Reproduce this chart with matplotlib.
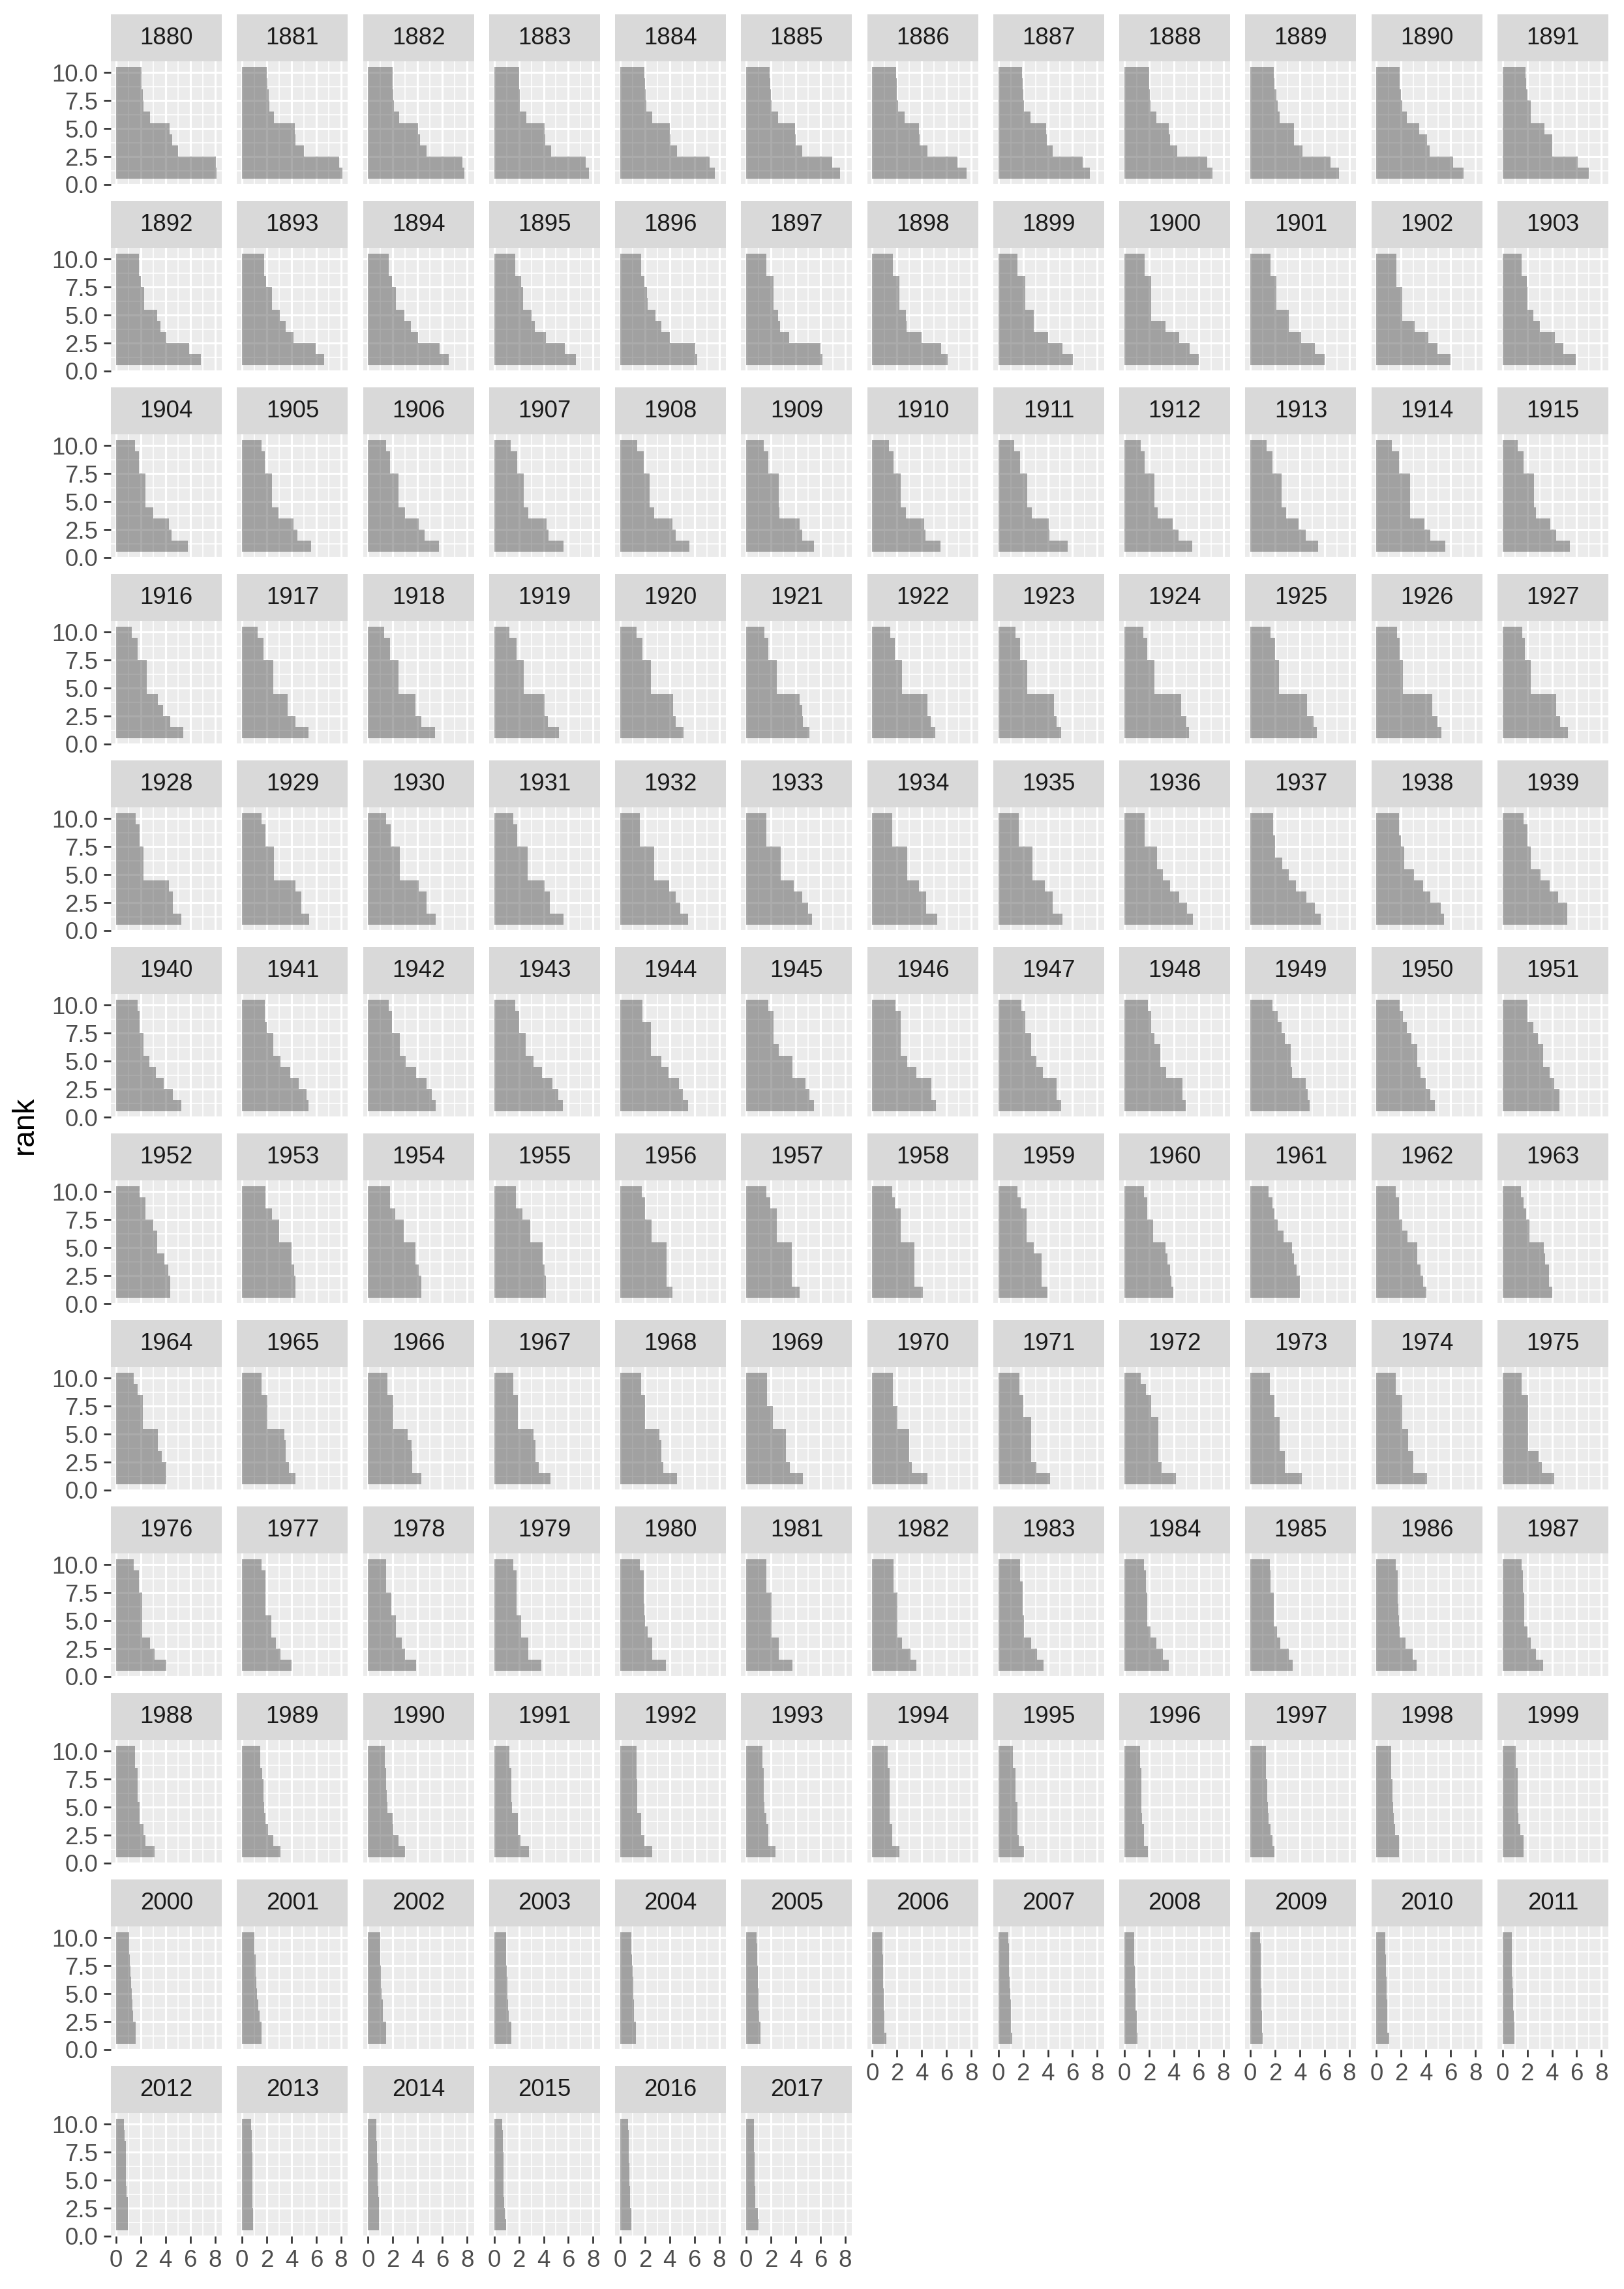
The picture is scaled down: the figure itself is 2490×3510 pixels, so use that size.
import matplotlib
matplotlib.use("Agg")
import matplotlib.pyplot as plt
import numpy as np

# share (%) of the ten most common names per year, one list per rank
years = list(range(1880, 2018))
ranks = [1, 2, 3, 4, 5, 6, 7, 8, 9, 10]

rank1 = [8.15, 8.10, 7.80, 7.65, 7.65, 7.60, 7.60, 7.40, 7.10, 7.15, 7.05, 7.00,
         6.87, 6.66, 6.54, 6.60, 6.25, 6.15, 6.10, 6.05, 6.00, 6.00, 5.97, 5.90,
         5.80, 5.60, 5.75, 5.60, 5.60, 5.47, 5.50, 5.60, 5.47, 5.47, 5.55, 5.43,
         5.43, 5.35, 5.40, 5.23, 5.10, 5.08, 5.08, 5.08, 5.20, 5.35, 5.27, 5.27,
         5.27, 5.40, 5.47, 5.60, 5.50, 5.30, 5.23, 5.20, 5.55, 5.70, 5.47, 5.23,
         5.27, 5.35, 5.47, 5.55, 5.50, 5.47, 5.16, 5.08, 4.96, 4.80, 4.70, 4.58,
         4.37, 4.30, 4.30, 4.20, 4.20, 4.30, 4.10, 3.95, 3.98, 4.00, 4.05, 4.05,
         4.06, 4.30, 4.30, 4.57, 4.60, 4.60, 4.45, 4.20, 4.18, 4.18, 4.10, 4.18,
         4.06, 3.98, 3.90, 3.80, 3.70, 3.75, 3.55, 3.63, 3.60, 3.40, 3.25, 3.28,
         3.10, 3.10, 3.00, 2.80, 2.58, 2.38, 2.20, 2.07, 1.92, 1.92, 1.80, 1.72,
         1.56, 1.56, 1.45, 1.37, 1.25, 1.17, 1.13, 1.10, 1.05, 0.98, 1.05, 0.98,
         0.94, 0.90, 0.90, 0.94, 0.90, 0.98]
rank2 = [8.05, 7.85, 7.60, 7.40, 7.25, 6.95, 6.90, 6.80, 6.70, 6.50, 6.20, 6.10,
         5.93, 5.95, 5.76, 5.70, 6.05, 6.00, 5.55, 5.20, 5.27, 5.20, 4.95, 4.90,
         4.50, 4.45, 4.55, 4.40, 4.50, 4.50, 4.30, 4.15, 4.37, 4.45, 4.37, 4.33,
         4.37, 4.30, 4.30, 4.33, 4.50, 4.60, 4.70, 4.70, 5.04, 5.08, 4.95, 4.65,
         4.60, 4.77, 4.70, 4.50, 4.88, 5.00, 4.37, 4.40, 5.08, 5.20, 5.20, 5.23,
         4.57, 5.23, 5.16, 5.16, 5.08, 5.08, 4.77, 4.70, 4.70, 4.62, 4.35, 4.58,
         4.37, 4.30, 4.30, 4.20, 3.75, 3.70, 3.40, 3.50, 3.80, 4.00, 3.77, 3.77,
         4.06, 3.80, 3.55, 3.60, 3.50, 3.50, 3.20, 3.10, 3.00, 2.80, 3.00, 3.16,
         3.10, 3.10, 3.00, 2.77, 2.58, 2.65, 3.08, 3.12, 3.10, 3.08, 2.93, 2.70,
         2.40, 2.54, 2.46, 2.15, 1.95, 1.80, 1.60, 1.64, 1.56, 1.76, 1.80, 1.72,
         1.56, 1.56, 1.45, 1.37, 1.25, 1.17, 1.00, 1.02, 0.98, 0.95, 0.88, 0.98,
         0.94, 0.88, 0.90, 0.85, 0.90, 0.95]
rank3 = [5.01, 5.00, 4.75, 4.60, 4.60, 4.50, 4.45, 4.40, 4.25, 4.20, 4.30, 4.00,
         4.07, 4.14, 4.02, 4.20, 4.00, 3.45, 4.00, 4.00, 4.45, 4.10, 4.20, 4.25,
         4.25, 4.15, 4.10, 4.25, 4.20, 4.30, 4.20, 4.10, 3.90, 3.90, 3.90, 3.87,
         3.80, 3.70, 3.83, 4.06, 4.30, 4.50, 4.45, 4.50, 4.57, 4.60, 4.50, 4.33,
         4.60, 4.77, 4.70, 4.50, 4.50, 4.50, 4.37, 4.40, 4.45, 4.50, 4.37, 4.50,
         3.87, 4.57, 4.70, 4.73, 4.73, 4.80, 4.77, 4.70, 4.70, 4.47, 4.00, 4.20,
         4.20, 4.20, 4.10, 4.10, 3.75, 3.70, 3.40, 3.50, 3.67, 3.73, 3.55, 3.77,
         3.67, 3.50, 3.55, 3.36, 3.30, 3.20, 3.00, 2.65, 2.73, 2.80, 3.00, 2.90,
         2.73, 2.73, 2.73, 2.77, 2.58, 2.65, 2.38, 2.65, 2.60, 2.42, 2.34, 2.30,
         2.20, 2.10, 2.03, 1.90, 1.68, 1.80, 1.60, 1.52, 1.56, 1.64, 1.50, 1.45,
         1.40, 1.40, 1.20, 1.20, 1.12, 1.05, 1.00, 1.02, 0.98, 0.92, 0.86, 0.90,
         0.94, 0.86, 0.90, 0.80, 0.82, 0.75]
rank4 = [4.52, 4.30, 4.20, 4.15, 4.05, 4.00, 3.85, 3.90, 3.70, 3.55, 4.10, 4.00,
         3.60, 3.55, 3.44, 3.30, 3.35, 2.75, 2.75, 2.85, 3.30, 3.10, 3.10, 3.00,
         3.00, 2.97, 3.00, 2.77, 2.77, 2.70, 2.70, 2.70, 2.70, 2.90, 2.73, 2.70,
         3.40, 3.70, 3.83, 4.06, 4.30, 4.30, 4.45, 4.50, 4.57, 4.60, 4.50, 4.33,
         4.25, 4.30, 4.10, 4.06, 3.95, 3.83, 3.80, 3.75, 3.70, 3.70, 3.80, 3.80,
         3.20, 3.90, 3.90, 3.87, 3.90, 3.75, 3.55, 3.60, 3.40, 3.38, 3.55, 3.80,
         3.90, 4.00, 3.83, 3.90, 3.75, 3.70, 3.40, 3.50, 3.50, 3.50, 3.30, 3.47,
         3.40, 3.50, 3.50, 3.36, 3.30, 3.20, 3.00, 2.65, 2.73, 2.34, 2.54, 2.10,
         2.10, 2.34, 2.27, 2.20, 2.20, 2.07, 2.03, 2.07, 2.10, 2.15, 1.90, 2.00,
         1.90, 1.90, 2.00, 1.90, 1.68, 1.60, 1.40, 1.52, 1.45, 1.45, 1.40, 1.30,
         1.33, 1.33, 1.17, 1.10, 1.10, 1.00, 0.95, 1.00, 0.92, 0.90, 0.86, 0.86,
         0.85, 0.86, 0.80, 0.78, 0.78, 0.72]
rank5 = [4.33, 4.28, 4.05, 4.10, 4.00, 3.95, 3.80, 3.85, 3.60, 3.50, 3.45, 3.40,
         3.30, 3.06, 2.94, 3.00, 2.85, 2.60, 2.70, 2.85, 2.15, 3.10, 2.07, 2.50,
         2.40, 2.40, 2.46, 2.40, 2.40, 2.65, 2.30, 2.34, 2.42, 2.50, 2.73, 2.54,
         2.50, 2.54, 2.46, 2.40, 2.46, 2.46, 2.38, 2.34, 2.42, 2.30, 2.15, 2.30,
         2.20, 2.60, 2.54, 2.70, 2.77, 2.77, 2.80, 2.77, 3.10, 3.10, 3.05, 3.10,
         2.70, 3.10, 3.05, 3.16, 3.30, 3.75, 2.80, 3.05, 2.90, 3.26, 3.30, 3.30,
         3.30, 4.00, 3.83, 3.90, 3.75, 3.70, 3.40, 2.85, 3.30, 3.38, 3.30, 3.36,
         3.40, 3.40, 3.20, 3.16, 3.16, 3.20, 3.00, 2.65, 2.73, 2.34, 2.54, 2.10,
         2.10, 2.34, 2.27, 2.20, 2.00, 2.07, 2.03, 2.07, 1.84, 1.90, 1.80, 1.76,
         1.90, 1.80, 1.55, 1.45, 1.40, 1.45, 1.40, 1.52, 1.40, 1.40, 1.35, 1.25,
         1.25, 1.20, 1.10, 1.07, 1.08, 0.98, 0.92, 0.95, 0.90, 0.88, 0.84, 0.84,
         0.80, 0.86, 0.78, 0.76, 0.75, 0.70]
rank6 = [2.74, 2.60, 2.50, 2.60, 2.60, 2.60, 2.60, 2.60, 2.60, 2.35, 2.45, 2.30,
         2.28, 2.42, 2.24, 2.35, 2.20, 2.20, 2.20, 2.20, 2.15, 2.10, 2.07, 2.00,
         2.40, 2.40, 2.46, 2.40, 2.40, 2.65, 2.30, 2.34, 2.42, 2.50, 2.73, 2.54,
         2.50, 2.54, 2.46, 2.40, 2.46, 2.46, 2.38, 2.34, 2.42, 2.30, 2.15, 2.30,
         2.20, 2.60, 2.54, 2.70, 2.77, 2.77, 2.80, 2.77, 2.65, 2.60, 2.23, 2.30,
         2.20, 2.54, 2.54, 2.54, 2.46, 2.65, 2.30, 2.65, 2.90, 3.26, 3.30, 3.30,
         3.30, 3.00, 2.90, 2.90, 2.54, 2.46, 2.30, 2.27, 2.30, 2.70, 2.50, 2.20,
         2.15, 2.03, 2.03, 1.90, 2.00, 2.15, 2.03, 2.65, 2.73, 2.34, 2.07, 2.10,
         2.10, 1.88, 1.88, 1.80, 1.95, 2.07, 2.03, 1.95, 1.84, 1.90, 1.75, 1.76,
         1.72, 1.72, 1.50, 1.40, 1.37, 1.42, 1.40, 1.37, 1.37, 1.37, 1.29, 1.21,
         1.20, 1.15, 1.05, 1.05, 1.05, 0.95, 0.90, 0.90, 0.87, 0.86, 0.80, 0.80,
         0.78, 0.86, 0.75, 0.75, 0.72, 0.68]
rank7 = [2.22, 2.20, 2.07, 2.10, 2.10, 2.05, 2.10, 2.05, 2.10, 2.20, 2.10, 2.30,
         2.28, 2.42, 2.24, 2.35, 2.15, 2.20, 2.20, 2.20, 2.15, 2.10, 2.07, 2.00,
         2.40, 2.40, 2.46, 2.40, 2.40, 2.65, 2.30, 2.34, 2.42, 2.50, 2.73, 2.54,
         2.50, 2.54, 2.46, 2.40, 2.46, 2.46, 2.38, 2.34, 2.42, 2.30, 2.15, 2.30,
         2.20, 2.60, 2.54, 2.70, 2.77, 2.77, 2.80, 2.77, 2.65, 2.00, 2.23, 2.30,
         2.20, 2.54, 2.54, 2.54, 2.46, 2.20, 2.30, 2.65, 2.42, 2.78, 2.80, 2.85,
         3.00, 3.00, 2.90, 2.90, 2.54, 2.46, 2.30, 2.27, 2.30, 2.20, 2.08, 2.20,
         2.15, 2.03, 2.03, 1.90, 2.00, 2.15, 2.03, 2.00, 2.15, 1.95, 2.07, 2.10,
         2.10, 1.88, 1.88, 1.80, 1.90, 2.07, 2.03, 1.95, 1.84, 1.90, 1.72, 1.76,
         1.72, 1.72, 1.48, 1.40, 1.35, 1.40, 1.40, 1.37, 1.37, 1.37, 1.29, 1.21,
         1.17, 1.10, 1.02, 1.03, 1.00, 0.92, 0.88, 0.88, 0.85, 0.86, 0.78, 0.78,
         0.78, 0.86, 0.73, 0.74, 0.71, 0.66]
rank8 = [2.14, 2.15, 2.05, 2.05, 2.05, 2.00, 2.00, 2.00, 2.05, 2.10, 2.00, 2.00,
         2.00, 1.95, 1.95, 2.20, 1.95, 2.20, 2.20, 2.20, 2.15, 2.10, 1.60, 1.99,
         1.84, 1.83, 1.76, 1.84, 1.88, 1.80, 1.72, 1.76, 1.64, 1.76, 1.80, 1.68,
         1.72, 1.72, 1.76, 1.80, 1.80, 1.76, 1.84, 1.76, 1.84, 2.00, 1.85, 1.83,
         1.90, 1.90, 1.84, 1.84, 1.56, 1.60, 1.60, 1.64, 1.64, 2.00, 2.00, 2.00,
         1.90, 2.00, 1.95, 2.00, 2.46, 2.20, 2.30, 2.20, 2.15, 2.50, 2.45, 2.50,
         2.40, 2.42, 2.20, 2.30, 2.00, 2.46, 2.30, 2.27, 1.84, 1.92, 1.80, 1.92,
         2.15, 2.03, 2.03, 1.90, 2.00, 1.68, 1.64, 2.00, 2.15, 1.95, 2.07, 2.10,
         1.84, 1.88, 1.48, 1.80, 1.88, 1.60, 1.72, 1.95, 1.72, 1.64, 1.72, 1.64,
         1.72, 1.64, 1.48, 1.40, 1.33, 1.40, 1.40, 1.37, 1.37, 1.25, 1.20, 1.21,
         1.10, 1.10, 1.00, 0.98, 0.95, 0.90, 0.86, 0.86, 0.82, 0.86, 0.75, 0.76,
         0.78, 0.80, 0.70, 0.72, 0.70, 0.64]
rank9 = [2.06, 2.03, 2.00, 2.02, 2.00, 1.95, 1.97, 1.95, 2.00, 1.95, 1.90, 1.90,
         1.84, 1.79, 1.67, 1.72, 1.68, 1.60, 1.64, 1.56, 1.64, 1.64, 1.60, 1.52,
         1.84, 1.83, 1.76, 1.84, 1.88, 1.80, 1.72, 1.76, 1.64, 1.76, 1.80, 1.68,
         1.72, 1.72, 1.76, 1.80, 1.80, 1.76, 1.84, 1.76, 1.84, 2.00, 1.85, 1.83,
         1.90, 1.90, 1.84, 1.84, 1.56, 1.60, 1.60, 1.64, 1.64, 1.84, 1.80, 2.00,
         1.90, 1.84, 1.95, 2.00, 1.80, 2.20, 2.30, 2.20, 2.15, 2.20, 2.15, 2.00,
         2.40, 1.88, 1.76, 1.76, 2.00, 1.95, 1.84, 1.80, 1.84, 1.80, 1.80, 1.70,
         1.72, 1.56, 1.56, 1.52, 1.68, 1.68, 1.64, 1.68, 1.72, 1.56, 1.56, 1.52,
         1.84, 1.88, 1.48, 1.80, 1.88, 1.60, 1.72, 1.76, 1.72, 1.64, 1.72, 1.64,
         1.52, 1.45, 1.37, 1.25, 1.33, 1.33, 1.25, 1.20, 1.25, 1.25, 1.17, 1.05,
         1.05, 1.00, 0.98, 0.95, 0.92, 0.88, 0.84, 0.84, 0.80, 0.86, 0.72, 0.75,
         0.70, 0.76, 0.68, 0.70, 0.68, 0.62]
rank10 = [2.04, 2.00, 2.00, 2.00, 1.95, 1.90, 1.95, 1.93, 2.00, 1.90, 1.90, 1.85,
          1.84, 1.79, 1.67, 1.72, 1.68, 1.60, 1.64, 1.56, 1.64, 1.64, 1.60, 1.52,
          1.52, 1.56, 1.48, 1.33, 1.37, 1.40, 1.33, 1.30, 1.33, 1.33, 1.25, 1.25,
          1.25, 1.25, 1.29, 1.25, 1.33, 1.48, 1.45, 1.40, 1.52, 1.64, 1.64, 1.60,
          1.56, 1.56, 1.48, 1.52, 1.56, 1.60, 1.60, 1.64, 1.64, 1.84, 1.80, 1.72,
          1.72, 1.84, 1.68, 1.72, 1.80, 1.76, 1.90, 1.88, 1.92, 1.76, 1.85, 2.00,
          1.90, 1.88, 1.76, 1.76, 1.76, 1.60, 1.60, 1.52, 1.56, 1.46, 1.57, 1.50,
          1.45, 1.56, 1.56, 1.52, 1.68, 1.68, 1.64, 1.68, 1.33, 1.56, 1.56, 1.52,
          1.45, 1.56, 1.48, 1.52, 1.60, 1.60, 1.72, 1.76, 1.56, 1.56, 1.56, 1.52,
          1.52, 1.45, 1.37, 1.25, 1.33, 1.33, 1.25, 1.20, 1.25, 1.25, 1.17, 1.05,
          1.05, 0.98, 0.98, 0.94, 0.90, 0.86, 0.82, 0.82, 0.78, 0.78, 0.70, 0.74,
          0.66, 0.74, 0.66, 0.66, 0.66, 0.60]

x_ticks = [0, 2, 4, 6, 8]
y_ticks = [0, 2.5, 5, 7.5, 10]
y_labels = ["0.0", "2.5", "5.0", "7.5", "10.0"]

plt.rcParams['font.family'] = ['Liberation Sans', 'DejaVu Sans']

W, H = 2490, 3510
fig = plt.figure(figsize=(W / 300, H / 300), dpi=300)


def box(x, y, w, h):
    # pixel box (from top left) -> figure fraction
    return [x / W, 1 - (y + h) / H, w / W, h / H]


values = np.array([rank1, rank2, rank3, rank4, rank5,
                   rank6, rank7, rank8, rank9, rank10]).T
xmax = values.max()
pad = 0.05 * xmax
# bar edges: each rank is a full-width band (rank +/- 0.5)
edges = np.append(np.array(ranks) - 0.5, ranks[-1] + 0.5)

ncol = 12
for i, yr in enumerate(years):
    r, c = divmod(i, ncol)
    px = 170.2 + c * 193.25
    py = 22 + r * 286

    # strip
    sax = fig.add_axes(box(px, py, 170, 72))
    sax.set_facecolor('#D9D9D9')
    sax.set_xticks([])
    sax.set_yticks([])
    for s in sax.spines.values():
        s.set_visible(False)
    sax.text(0.5, 0.5, str(yr), ha='center', va='center', fontsize=8.8,
             color='#1A1A1A', transform=sax.transAxes)

    # panel: one filled step outline so the translucent bars don't overlap
    ax = fig.add_axes(box(px, py + 72, 170, 189))
    ax.set_facecolor('#EBEBEB')
    ax.stairs(values[i], edges, orientation='horizontal', baseline=0,
              fill=True, color='#595959', alpha=0.5, linewidth=0, zorder=2)
    ax.set_xlim(-pad, xmax + pad)
    ax.set_ylim(0, 11)
    ax.set_xticks(x_ticks)
    ax.set_xticks([1, 3, 5, 7], minor=True)
    ax.set_yticks(y_ticks)
    ax.set_yticks([1.25, 3.75, 6.25, 8.75], minor=True)
    ax.set_yticklabels(y_labels)
    ax.grid(which='major', color='white', linewidth=0.75)
    ax.grid(which='minor', color='white', linewidth=0.4)
    ax.set_axisbelow(True)
    for s in ax.spines.values():
        s.set_visible(False)

    ax.tick_params(which='minor', length=0)
    ax.tick_params(which='major', length=2.6, width=0.65, color='#333333',
                   labelsize=8.8, labelcolor='#4D4D4D', pad=2.2)
    at_bottom = i + ncol >= len(years)
    at_left = c == 0
    ax.tick_params(axis='x', bottom=at_bottom, labelbottom=at_bottom)
    ax.tick_params(axis='y', left=at_left, labelleft=at_left)

fig.text(38 / W, 1 - 1725 / H, 'rank', rotation=90, ha='center',
         va='center', fontsize=11, color='black')

fig.savefig('out.png', dpi=300)
